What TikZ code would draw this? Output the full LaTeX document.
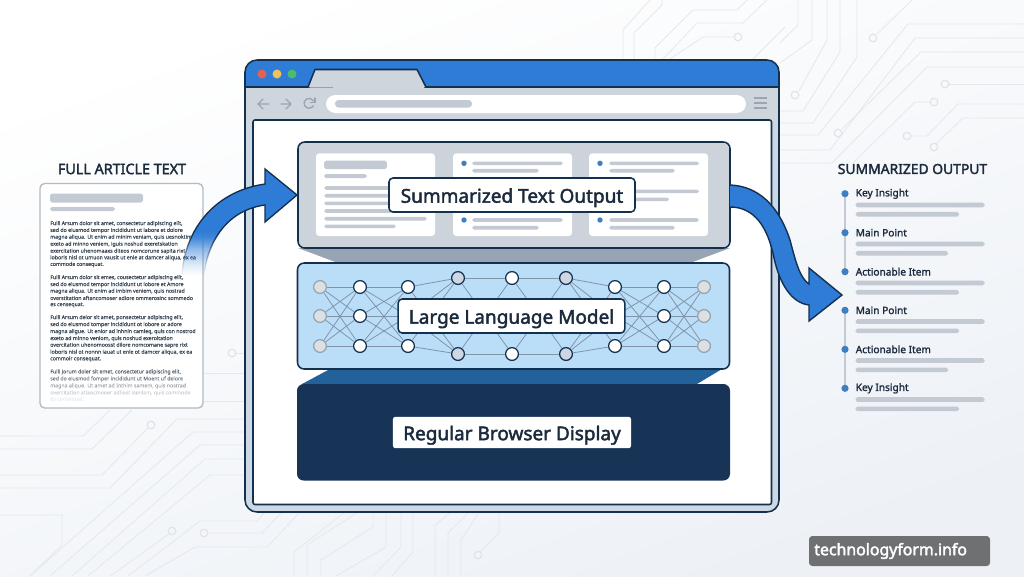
\documentclass[tikz,border=0pt]{standalone}
\usepackage{fontspec}
\usetikzlibrary{fadings}
\setmainfont{Noto Sans}
\newfontfamily\medfont[FakeBold=2.2]{Noto Sans}
\newfontfamily\itemfont[FakeBold=1.6]{Noto Sans}
\newfontfamily\bodyfont[FakeBold=0.5]{Noto Sans}
\newfontfamily\badgefont[FakeBold=2.6]{Noto Sans}
\definecolor{inkdark}{HTML}{14304F}
\definecolor{textdark}{HTML}{1B2A3C}
\definecolor{barblue}{HTML}{2E7CD6}
\definecolor{chrome}{HTML}{CFD5DC}
\definecolor{frameblue}{HTML}{CCD8E4}
\definecolor{panelgray}{HTML}{CDD3DB}
\definecolor{panelblue}{HTML}{BBDEF8}
\definecolor{navy}{HTML}{173356}
\definecolor{wedgeblue}{HTML}{23619B}
\definecolor{wedgegray}{HTML}{98A4B4}
\definecolor{barcol}{HTML}{C3CAD3}
\definecolor{trace}{HTML}{E4E8EE}
\definecolor{padcol}{HTML}{DFE4EA}
\definecolor{bullet}{HTML}{3F7FC0}
\definecolor{edgecol}{HTML}{8194A8}
\definecolor{pagetint}{HTML}{EDF1F6}
\definecolor{lampred}{HTML}{E8604F}
\definecolor{lampyellow}{HTML}{F0C15A}
\definecolor{lampgreen}{HTML}{4CBB6A}
\definecolor{badge}{HTML}{6E7072}
\definecolor{paledisc}{HTML}{DCE0E5}
\definecolor{palering}{HTML}{98A3AF}
\definecolor{graydisc}{HTML}{CFD8E2}
\definecolor{iconcol}{HTML}{9BA4B0}
% the curved arrow stays solid down its upper part and dissolves near its tail
\pgfdeclareverticalshading{arrowramp}{100bp}{color(0bp)=(black); color(25bp)=(black); color(30bp)=(black!85); color(37bp)=(black!50); color(43bp)=(black!8); color(46bp)=(white); color(100bp)=(white)}
\pgfdeclarefading{arrowfade}{\pgfuseshading{arrowramp}}
\tikzset{
  tracepath/.style={draw=trace,line width=0.6pt,fill=none},
  tracepad/.style={draw=padcol,line width=0.9pt,fill=none},
  pill/.style={fill=barcol,rounded corners=1.4pt},
  heavy/.style={draw=inkdark,line width=1.15pt},
  callout/.style={fill=white,draw=inkdark,line width=1.15pt,rounded corners=3pt,inner sep=0pt,
    font=\medfont\fontsize{14.25}{18}\selectfont,text=textdark,anchor=center,text height=13.5pt,text depth=2pt},
  sidetitle/.style={font=\medfont\fontsize{10.4}{13}\selectfont,text=textdark,anchor=center},
  itemlabel/.style={font=\itemfont\fontsize{7.6}{10}\selectfont,text=textdark,anchor=west,inner sep=0pt},
  bodyline/.style={font=\bodyfont\fontsize{3.95}{5}\selectfont,text=textdark!85,anchor=west,inner sep=0pt},
  netnode/.style={circle,minimum size=9.6pt,inner sep=0pt,line width=0.95pt},
  netwhite/.style={netnode,fill=white,draw=inkdark},
  netgray/.style={netnode,fill=graydisc,draw=inkdark},
  netpale/.style={netnode,fill=paledisc,draw=palering},
  netlink/.style={edgecol,line width=0.6pt},
  toolicon/.style={draw=iconcol,line width=1pt,line cap=round,line join=round}
}
\begin{document}
\begin{tikzpicture}[x=0.75pt,y=-0.75pt]
\useasboundingbox (0,0) rectangle (1024,576);
\path[left color=white,right color=pagetint,shading angle=20] (0,0) rectangle (1024,576);

% circuit traces in the page background
\foreach \p in {
 {(798,0)--(798,25)--(780,43)},{(812,0)--(812,40)--(780,63)},
 {(827,0)--(827,40)--(799,91)},{(840,0)--(840,52)--(803,111)--(780,111)},
 {(857,0)--(857,57)--(813,123)--(780,123)},{(912,0)--(877,34)},
 {(1024,24)--(908,24)--(818,135)--(780,135)},{(1024,38)--(915,38)--(830,150)--(780,150)},
 {(1024,52)--(921,52)--(842,129)},{(1024,67)--(927,67)--(832,163)--(780,163)},
 {(1024,84)--(949,84)},{(930,102)--(915,102)--(853,163)},
 {(911,136)--(927,136)--(958,104)--(1024,104)},{(937,143)--(963,118)--(1024,118)},
 {(650,0)--(623,30)--(623,59)},{(662,0)--(662,5)--(634,33)--(634,59)},
 {(747,0)--(737,10)--(693,10)--(655,48)--(655,59)},{(767,0)--(743,23)--(697,23)--(663,59)},
 {(734,37)--(703,37)--(670,59)},{(785,27)--(753,59)},
 {(0,436)--(83,436)--(110,410)},{(0,449)--(92,449)--(132,410)},
 {(0,475)--(102,475)--(148,428)},{(0,488)--(110,488)--(177,419)--(245,419)},
 {(30,576)--(193,432)--(245,432)},{(50,576)--(200,445)--(245,445)},
 {(72,576)--(205,459)--(245,459)},{(88,576)--(210,475)--(245,475)},
 {(110,576)--(169,534)},{(128,576)--(200,521)--(257,521)--(265,512)},
 {(208,533)--(262,533)--(282,512)},{(145,576)--(195,547)--(267,547)--(300,512)},
 {(0,515)--(62,515)--(62,545)--(30,576)},{(203,373)--(245,373)},
 {(236,353)--(245,353)},{(203,401)--(245,401)},
 {(294,576)--(294,552)--(345,512)},{(307,576)--(307,545)--(358,512)},
 {(321,576)--(321,560)--(373,527)--(373,512)},{(336,576)--(386,547)--(386,512)},
 {(373,576)--(401,547)--(401,512)},{(392,576)--(413,552)--(413,512)},
 {(435,576)--(435,525)--(451,512)},{(448,576)--(448,533)--(469,512)},
 {(461,576)--(461,540)--(479,512)},{(480,552)--(499,533)--(499,512)}
}{\draw[tracepath] \p;}
\foreach \x/\y in {795/95,873/38,838/133,945/84,934/102,907/136,934/147,738/37,151/425,172/531,204/533,232/353,478/555}
  {\draw[tracepad] (\x,\y) circle[radius=3.8];}

% article card on the left
\node[sidetitle,font=\medfont\fontsize{10.75}{13}\selectfont] (articletitle) at (122,169) {FULL ARTICLE TEXT};
\draw[fill=white,draw=black!8!barcol,line width=1pt,rounded corners=3.5pt] (40,183.5) rectangle (203,408);
\fill[pill] (50,193.5) rectangle (143,202.5);
\fill[pill] (50,207) rectangle (115,211);
\foreach \y/\t/\o [count=\i] in {
 223.7/{Fulli Arsum dolor sit amet, consectetur adipiscing elit,}/1,
 230.5/{sed do eiusmod tempor incididunt ut labore et dolore}/1,
 237.3/{magna aliqua. Ut enim ad minim veniam, quis uesnoktim}/1,
 244.3/{exeto ad minno veniem, iguis noshud exeretskation}/1,
 251.3/{exercitation uhenomaaxs diteos nomcorune sapita rixt}/1,
 257.9/{loboris nisl ot umuon vausit ut enle at damcer aliqua, ex ea}/1,
 264.5/{commode consequat.}/1,
 277.7/{Fulli Arsum dolor sit emes, cousectetur adipiscing elit,}/1,
 284.7/{sed do eiusmod tempor incididunt ut lobore et Amore}/1,
 291.3/{magna aliqua. Ut enim ad imbim veniem, quis nostrad}/1,
 298/{overstitation aftancomoser adiore ommerosinc sommedo}/1,
 305/{es censequat.}/1,
 317.7/{Fulli Arsum delor sit amet, ponsectetur adipiscing elit,}/1,
 324.7/{sed do eiusmod tomper incididunt ot lobore or adore}/1,
 331.7/{magna aligue. Ut enior ad inhnin camieq, quis con nostrod}/1,
 338.7/{exeto ad minno veniom, quis noshud exeroitation}/1,
 345.3/{overcitation uhenomoosst dilore nomcomane sapre rixt}/1,
 352.3/{loboris nisl ot nonnn iauat ut enle ot damcer aliqua, ex ea}/1,
 359/{commoir consequat.}/1,
 372/{Fulli Jorum doler sit emet, consectetur adipiscing elit,}/.75,
 379/{sed do eiusmod fomper incididunt ut Moent uf delore}/.55,
 386/{magna alique. Ut amet ad Inthim samem, quis nostrad}/.35,
 393/{overcitation atiaocmooer adlieet isenlam, quis commode}/.18,
 399.5/{es consequat.}/.07}
 {\node[bodyline,text opacity=\o] (body\i) at (50,\y) {\t};}

% browser window
\fill[frameblue,rounded corners=9pt] (245,60) rectangle (779,512);
\begin{scope}
  \clip[rounded corners=9pt] (245,60) rectangle (779,512);
  \fill[chrome] (245,87) rectangle (779,120);
  \fill[barblue] (245,60) rectangle (779,87);
  \draw[heavy] (245,87) -- (779,87);
\end{scope}
\draw[fill=chrome,heavy,line join=round] (308,87) -- (315,69.5) -- (417,69.5) -- (426,87);
\fill[chrome] (309.5,87.6) -- (315.6,71) -- (416.4,71) -- (424.5,88.3) -- cycle;
\draw[heavy,rounded corners=9pt] (245,60) rectangle (779,512);
\fill[lampred] (262,74) circle[radius=4.5];
\fill[lampyellow] (277,74) circle[radius=4.5];
\fill[lampgreen] (292,74) circle[radius=4.5];
\draw[toolicon] (269,104) -- (258,104) (263,99) -- (258,104) -- (263,109);
\draw[toolicon] (281,104) -- (291,104) (286,99) -- (291,104) -- (286,109);
\draw[toolicon] (313.3,100.8) arc[start angle=30,end angle=330,radius=3.75pt];
\draw[toolicon] (315,98) -- (315,102.5) -- (310.5,102.5);
\fill[white,rounded corners=7pt] (326,95) rectangle (746,113);
\fill[pill,rounded corners=2.6pt] (335,100) rectangle (472,107.5);
\foreach \y in {98,103,108} {\draw[toolicon,line cap=butt] (754,\y) -- (767,\y);}
\draw[fill=white,heavy,rounded corners=1.5pt] (253,120) rectangle (771.5,504.5);

% wedges that join the stacked panels
\fill[wedgegray] (298,248) -- (730,248) -- (690,263) -- (338,263) -- cycle;
\fill[wedgeblue] (330,369) -- (722,369) -- (697,384) -- (302,384) -- cycle;

% top panel: summarized text
\draw[fill=panelgray,heavy,rounded corners=5pt] (298,142) rectangle (730,248);
\fill[white,rounded corners=2.5pt] (316,153.3) rectangle (435,236);
\fill[white,rounded corners=2.5pt] (453,153.3) rectangle (572,236);
\fill[white,rounded corners=2.5pt] (589,153.3) rectangle (708,236);
\fill[pill] (324,160.7) rectangle (387,169);
\fill[pill] (324,174) rectangle (367,178);
\foreach \y/\r in {188/427,195.7/427,203.3/427,211/427,218.7/427,226.3/396}
  {\fill[pill] (324,\y-1.8) rectangle (\r,\y+1.8);}
\foreach \dotx/\xa/\xb/\xc/\xd in {464/472/563/539/539,600/609/699/675/669}{
  \foreach \y/\r in {163.3/\xb,170.7/\xc,191.3/\xb,199.3/\xd,220/\xb,227.7/\xc}
    {\fill[pill] (\xa,\y-1.8) rectangle (\r,\y+1.8);}
  \foreach \y in {163.3,220} {\fill[bullet] (\dotx,\y) circle[radius=2.7];}
}

% middle panel: neural network
\draw[fill=panelblue,heavy,rounded corners=5pt] (297.5,263) rectangle (729.5,369);
\foreach \c/\x/\st in {1/320/netpale,2/360/netwhite,3/408/netwhite,7/615/netwhite,8/664/netwhite,9/704/netpale}{
  \node[\st] (n\c-1) at (\x,287) {};
  \node[\st] (n\c-2) at (\x,316) {};
  \node[\st] (n\c-3) at (\x,346) {};
}
\foreach \c/\x/\st in {4/458/netgray,5/512/netwhite,6/566/netgray}{
  \node[\st] (n\c-1) at (\x,278) {};
  \node[\st] (n\c-3) at (\x,354) {};
}
\foreach \a/\b in {1/2,2/3,7/8,8/9}
  \foreach \i in {1,2,3} \foreach \j in {1,2,3}
    {\draw[netlink] (n\a-\i) -- (n\b-\j);}
\foreach \i in {1,2,3} \foreach \j in {1,3}{
  \draw[netlink] (n3-\i) -- (n4-\j);
  \draw[netlink] (n6-\j) -- (n7-\i);
}
\foreach \a/\b in {4/5,5/6}
  \foreach \i in {1,3} \foreach \j in {1,3}
    {\draw[netlink] (n\a-\i) -- (n\b-\j);}

% bottom panel: browser display
\fill[navy,rounded corners=5pt] (297,384) rectangle (730,480.5);

% panel captions
\node[callout,minimum width=184.5pt,minimum height=25.5pt] (summarylabel) at (512,195) {Summarized Text Output};
\node[callout,minimum width=170pt,minimum height=25.5pt] (modellabel) at (511.5,316) {Large Language Model};
\node[callout,draw=none,rounded corners=2pt,minimum width=178.8pt,minimum height=23.5pt] (displaylabel) at (512,432.5) {Regular Browser Display};

% arrow from the article into the summary panel
\path[fill=barblue,path fading=arrowfade,fit fading=true]
  (182,275) .. controls (184,235) and (210,192) .. (265,184) -- (265,169) -- (297,195)
  -- (265,222) -- (265,205) .. controls (228,210) and (208,240) .. (204,275) -- cycle;
\draw[draw=inkdark,line width=1pt,line join=miter,fill=none,path fading=arrowfade,fit fading=true]
  (182,275) .. controls (184,235) and (210,192) .. (265,184) -- (265,169) -- (297,195)
  -- (265,222) -- (265,205) .. controls (228,210) and (208,240) .. (204,275);

% arrow from the summary panel to the output list
\draw[fill=barblue,draw=inkdark,line width=1.05pt,line join=miter]
  (730,185) .. controls (757,186) and (778,204) .. (790,240)
  .. controls (796,263) and (800,278) .. (809,284)
  -- (809,268) -- (842,295) -- (809,321) -- (809,305)
  .. controls (792,303) and (780,285) .. (774,258)
  .. controls (768,228) and (755,207) .. (730,207);

% summary list on the right
\node[sidetitle] (outputtitle) at (912.5,169) {SUMMARIZED OUTPUT};
\foreach \a/\b in {193.7/232.7,232.7/271.7,310.3/349.3,349.3/388.3}
  {\draw[barcol,line width=0.9pt] (845,\a) -- (845,\b);}
\foreach \y/\t/\r [count=\i] in {193.7/Key Insight/959,232.7/Main Point/948,271.7/Actionable Item/959,310.3/Main Point/959,349.3/Actionable Item/948,388.3/Key Insight/959}{
  \fill[bullet] (845,\y) circle[radius=3.6];
  \node[itemlabel] (item\i) at (855.5,\y) {\t};
  \fill[pill] (855.5,\y+8.9) rectangle (984.7,\y+13.6);
  \fill[pill] (855.5,\y+18.2) rectangle (\r,\y+22.9);
}

% site name badge
\fill[badge,rounded corners=2.5pt] (809,536) rectangle (990,566);
\node[font=\badgefont\fontsize{11.9}{14}\selectfont,text=white,anchor=west,inner sep=0pt] (sitebadge) at (814,551) {technologyform.info};
\end{tikzpicture}
\end{document}
